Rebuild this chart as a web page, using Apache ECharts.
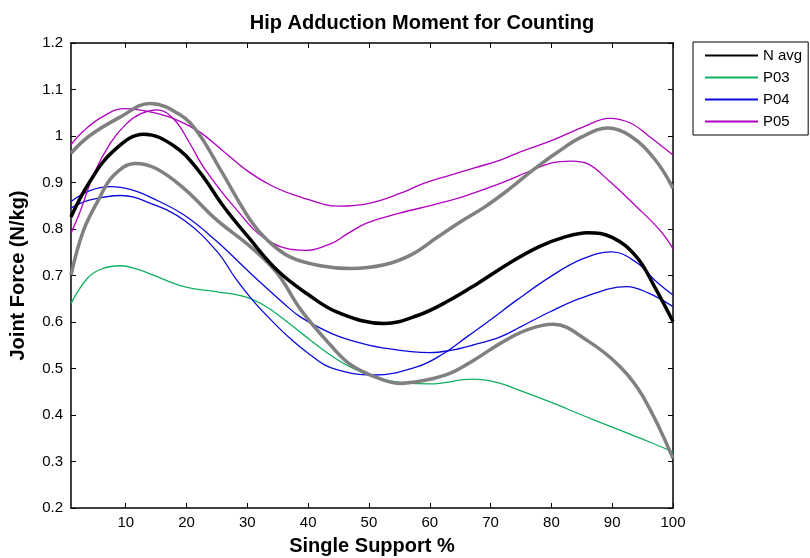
<!DOCTYPE html>
<html>
<head>
<meta charset="utf-8">
<script src="https://cdn.jsdelivr.net/npm/echarts@6/dist/echarts.min.js"></script>
<style>html,body{margin:0;padding:0;background:#fff;}#c{width:810px;height:558px;}</style>
</head>
<body>
<div id="c"></div>
<script>
// Tick labels of the x axis (Single Support %)
const xTicks = [10,20,30,40,50,60,70,80,90,100];

// N avg (black)
const nAvgX = [1,4,8,13,18,22,26,30,35,40,45,52.5,58,63,68,73,78,82,86,90,94,97,100];
const nAvgY = [0.826,0.90,0.968,1.004,0.978,0.925,0.85,0.785,0.71,0.659,0.62,0.597,0.614,0.645,0.684,0.726,0.762,0.782,0.792,0.782,0.74,0.675,0.601];
// N avg + SD (grey, upper)
const hiX = [1,4,9,14,19,22,25.6,30.5,33.3,37,42,47,52.5,57,61,65,69,73,77,81,85,89.3,93,97,100];
const hiY = [0.963,1.0,1.04,1.07,1.045,1.005,0.927,0.819,0.776,0.74,0.721,0.715,0.723,0.745,0.78,0.815,0.847,0.885,0.927,0.965,0.998,1.017,1.0,0.95,0.888];
// N avg - SD (grey, lower)
const loX = [1,3,5.5,8,11.6,15,19.6,25,30.5,34.9,38.8,43.7,47,51,55,59,63.4,67.5,71.6,76,80.3,85.8,91.3,95.1,100];
const loY = [0.701,0.795,0.862,0.915,0.941,0.93,0.887,0.819,0.762,0.705,0.626,0.55,0.508,0.482,0.468,0.474,0.49,0.52,0.554,0.583,0.595,0.561,0.504,0.439,0.307];
// P03 (green)
const p03X = [1,3.7,6,9.2,12,14.1,19.6,25,29.7,33,36,39,43,47,52.4,60,67.1,71,75,80,85,90,95,100];
const p03Y = [0.64,0.694,0.714,0.721,0.713,0.703,0.676,0.665,0.654,0.634,0.606,0.575,0.535,0.503,0.476,0.467,0.477,0.47,0.452,0.427,0.40,0.374,0.348,0.321];
// P04 (blue), trial a
const p04aX = [1,4,9.2,14.1,19.6,25,28,31,34,37,40,43.7,50.8,58,62,66.1,70,74.3,79.8,85,89.9,94,97,100];
const p04aY = [0.845,0.862,0.872,0.855,0.819,0.752,0.695,0.645,0.603,0.565,0.533,0.502,0.486,0.504,0.53,0.568,0.605,0.647,0.697,0.735,0.751,0.728,0.69,0.658];
// P04 (blue), trial b
const p04bX = [1,4,7.5,11,14.1,19.6,25,30.5,36,38.7,43.7,46.9,52,60,63.4,67,71.6,75,79.8,85,92.4,96,100];
const p04bY = [0.859,0.882,0.891,0.884,0.868,0.83,0.773,0.705,0.64,0.611,0.576,0.561,0.545,0.534,0.539,0.55,0.568,0.59,0.622,0.652,0.676,0.662,0.633];
// P05 (magenta), trial a
const p05aX = [1,3,6,9.7,14,18,22,26,30,34,38,45.3,50,55.2,59,63.4,67.5,71.6,74.9,80,85,89.6,93,96,100];
const p05aY = [0.981,1.01,1.04,1.059,1.052,1.037,1.01,0.968,0.925,0.893,0.872,0.849,0.855,0.877,0.898,0.916,0.932,0.948,0.966,0.99,1.018,1.038,1.028,1.0,0.959];
// P05 (magenta), trial b
const p05bX = [1,2.6,4.8,7.5,10,12.5,15.2,18,20.5,23.1,27.8,33.3,39.5,43.7,46.5,49.7,55,60.6,66,71.6,76,79.8,83.3,86,89.6,94,97.8,100];
const p05bY = [0.791,0.841,0.92,0.985,1.025,1.048,1.056,1.035,0.985,0.927,0.848,0.776,0.754,0.768,0.79,0.813,0.834,0.852,0.872,0.898,0.922,0.941,0.946,0.94,0.902,0.848,0.798,0.758];

const pair = (xs, ys) => xs.map((x, i) => [x, ys[i]]);
const FONT = 'Liberation Sans, Arial, sans-serif';
const GREEN = '#10b060', BLUE = '#0a0adc', MAG = '#b000c0', GREY = '#808080';

function line(name, xs, ys, color, width, z) {
  return { name, type: 'line', data: pair(xs, ys), smooth: 0.4, symbol: 'none', z,
    lineStyle: { color, width }, itemStyle: { color }, emphasis: { disabled: true } };
}

const chart = echarts.init(document.getElementById('c'), null, { renderer: 'canvas' });
chart.setOption({
  animation: false,
  backgroundColor: '#fff',
  title: {
    text: 'Hip Adduction Moment for Counting', left: 417, top: 8, textAlign: 'center',
    textStyle: { fontFamily: FONT, fontSize: 20, fontWeight: 'bold', color: '#000' }
  },
  legend: {
    data: ['N avg', 'P03', 'P04', 'P05'], orient: 'vertical', left: 693, top: 42,
    padding: [6, 6, 6, 11], itemWidth: 53, itemHeight: 14, itemGap: 7,
    borderColor: '#000', borderWidth: 1, backgroundColor: '#fff', selectedMode: false,
    itemStyle: { opacity: 0 },
    textStyle: { fontFamily: FONT, fontSize: 15, color: '#000' }
  },
  grid: { left: 71, right: 137, top: 43, bottom: 50, outerBoundsMode: 'none' },
  xAxis: [{
    type: 'value', min: 1, max: 100, position: 'bottom',
    name: 'Single Support %', nameLocation: 'middle', nameGap: 28,
    nameTextStyle: { fontFamily: FONT, fontSize: 20, fontWeight: 'bold', color: '#000' },
    axisLine: { lineStyle: { color: '#000', width: 1.5 } },
    axisTick: { inside: true, length: 5, customValues: xTicks, lineStyle: { color: '#000' } },
    axisLabel: { customValues: xTicks, margin: 7, fontFamily: FONT, fontSize: 15, color: '#000' },
    splitLine: { show: false }
  }, {
    type: 'value', min: 1, max: 100, position: 'top',
    axisLine: { lineStyle: { color: '#000', width: 1.5 } },
    axisTick: { inside: true, length: 5, customValues: xTicks, lineStyle: { color: '#000' } },
    axisLabel: { show: false }, splitLine: { show: false }
  }],
  yAxis: [{
    type: 'value', min: 0.2, max: 1.2, interval: 0.1, position: 'left',
    name: 'Joint Force (N/kg)', nameLocation: 'middle', nameGap: 43, nameRotate: 90,
    nameTextStyle: { fontFamily: FONT, fontSize: 20, fontWeight: 'bold', color: '#000' },
    axisLine: { show: true, lineStyle: { color: '#000', width: 1.5 } },
    axisTick: { show: true, inside: true, length: 5, lineStyle: { color: '#000' } },
    axisLabel: { margin: 8, fontFamily: FONT, fontSize: 15, color: '#000' },
    splitLine: { show: false }
  }, {
    type: 'value', min: 0.2, max: 1.2, interval: 0.1, position: 'right',
    axisLine: { show: true, lineStyle: { color: '#000', width: 1.5 } },
    axisTick: { show: true, inside: true, length: 5, lineStyle: { color: '#000' } },
    axisLabel: { show: false }, splitLine: { show: false }
  }],
  series: [
    line('P03', p03X, p03Y, GREEN, 1.3, 2),
    line('P04', p04aX, p04aY, BLUE, 1.3, 2),
    line('P04', p04bX, p04bY, BLUE, 1.3, 2),
    line('P05', p05aX, p05aY, MAG, 1.3, 2),
    line('P05', p05bX, p05bY, MAG, 1.3, 2),
    line('N avg + SD', hiX, hiY, GREY, 3.5, 3),
    line('N avg - SD', loX, loY, GREY, 3.5, 3),
    line('N avg', nAvgX, nAvgY, '#000', 3.5, 4)
  ]
});
</script>
</body>
</html>
